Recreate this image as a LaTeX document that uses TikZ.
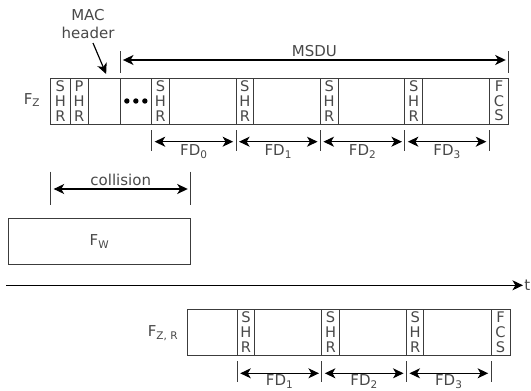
\documentclass[tikz,border=0pt]{standalone}
\usepackage{fontspec}
\setmainfont{DejaVu Sans}
\usepackage{xcolor}
\usepackage{tikz}
\usetikzlibrary{calc,arrows.meta,positioning}
\definecolor{framegray}{RGB}{60,60,60}
\definecolor{txtgray}{RGB}{72,72,72}

\tikzset{
  cell/.style={draw=framegray,line width=0.7pt,inner sep=0pt,outer sep=0pt,minimum height=46*0.03cm,minimum width=#1*0.03cm,
    align=center,text=txtgray,font=\fontsize{12.5}{12.6}\selectfont},
  lbl/.style={text=txtgray,font=\fontsize{12.8}{16}\selectfont,inner sep=1pt},
  tick/.style={draw=framegray,line width=0.8pt},
  arr/.style={-{Stealth[length=9pt,width=8.5pt,inset=2.5pt]},line width=1pt},
  dim/.style={{Stealth[length=9pt,width=8.5pt,inset=2.5pt]}-{Stealth[length=9pt,width=8.5pt,inset=2.5pt]},line width=1pt,shorten <=2.5pt,shorten >=2.5pt}
}

\begin{document}
\begin{tikzpicture}[x=0.03cm,y=-0.03cm]
\useasboundingbox(0,0)rectangle(531,390);\clip(0,0)rectangle(531,390);
% transmitted frame F_Z
\node[cell=19.3,anchor=north west](z0)at(50.7,78){S\\H\\R};
\node[cell=18.3,right=0pt of z0](z1){P\\H\\R};
\node[cell=31.7,right=0pt of z1](mac){};
\node[cell=31.7,right=0pt of mac](dots){};
\foreach \k in {-1,0,1}\fill[black]($(dots.center)+(9*\k,0)$)circle(2.7);
\foreach \i in {0,...,3}{
  \node[cell=17.5,anchor=north west](s\i)at({151.7+84.4*\i},78){S\\H\\R};
  \node[cell=66.9,right=0pt of s\i](d\i){};
}
\node[cell=19.4,right=0pt of d3](fcs){F\\C\\S};
\node[lbl](fz)at(32,100){F\textsubscript{Z}};
\node[lbl,align=center](machdr)at(88,24){MAC\\header};
\coordinate(machead)at(93,43);
\draw[arr](machead)--($(mac.north)+(2,-4)$);
% MSDU
\coordinate(m0)at($(dots.north west)+(0,-18)$);\coordinate(m1)at($(fcs.north east)+(0,-18)$);
\draw[tick]($(m0)+(0,-9)$)--($(m0)+(0,12.7)$);\draw[tick]($(m1)+(0,-9)$)--($(m1)+(0,12.7)$);
\draw[dim](m0)--(m1)node[lbl,midway,above=1pt]{MSDU};
% fragments FD_0..FD_3
\foreach \a/\b/\i in {s0/s1/0,s1/s2/1,s2/s3/2,s3/fcs/3}{
  \coordinate(fa\i)at($(\a.south west)+(0,17.7)$);\coordinate(fb\i)at($(\b.south west)+(0,17.7)$);
  \draw[dim](fa\i)--(fb\i)node[lbl,midway,below=1pt]{FD\textsubscript{\i}};
}
\foreach \c in {s0,s1,s2,s3,fcs}\draw[tick]($(\c.south west)+(0,6)$)--($(\c.south west)+(0,26.7)$);
% interfering frame F_W
\node[cell=182.4,anchor=north west,font=\fontsize{12.8}{14}\selectfont](fw)at(8.3,218.3){F\textsubscript{W}};
\coordinate(c0)at(50.7,189);\coordinate(c1)at(fw.north east|-c0);
\draw[tick]($(c0)+(0,-17.3)$)--($(c0)+(0,16)$);\draw[tick]($(c1)+(0,-17.3)$)--($(c1)+(0,16)$);
\draw[dim](c0)--(c1)node[lbl,midway,above=1pt]{collision};
% time axis
\coordinate(t0)at(6,285.3);\node[lbl,anchor=west](t)at(523,285.3){t};
\draw[arr](t0)--(t.west);
% retransmitted frame F_{Z,R}
\node[cell=50,anchor=north west](r0)at(187.3,309){};
\foreach \i in {0,...,2}{
  \node[cell=17.4,anchor=north west](rs\i)at({237.3+84.6*\i},309){S\\H\\R};
  \node[cell=67.2,right=0pt of rs\i](rd\i){};
}
\node[cell=18.9,right=0pt of rd2](rfcs){F\\C\\S};
\node[lbl](fzr)at(163,333){F\textsubscript{Z, R}};
\foreach \a/\b/\i in {rs0/rs1/1,rs1/rs2/2,rs2/rfcs/3}{
  \coordinate(ra\i)at($(\a.south west)+(0,18.3)$);\coordinate(rb\i)at($(\b.south west)+(0,18.3)$);
  \draw[dim](ra\i)--(rb\i)node[lbl,midway,below=0pt]{FD\textsubscript{\i}};
}
\foreach \c in {rs0,rs1,rs2,rfcs}\draw[tick]($(\c.south west)+(0,6)$)--($(\c.south west)+(0,26.7)$);
\end{tikzpicture}
\end{document}
